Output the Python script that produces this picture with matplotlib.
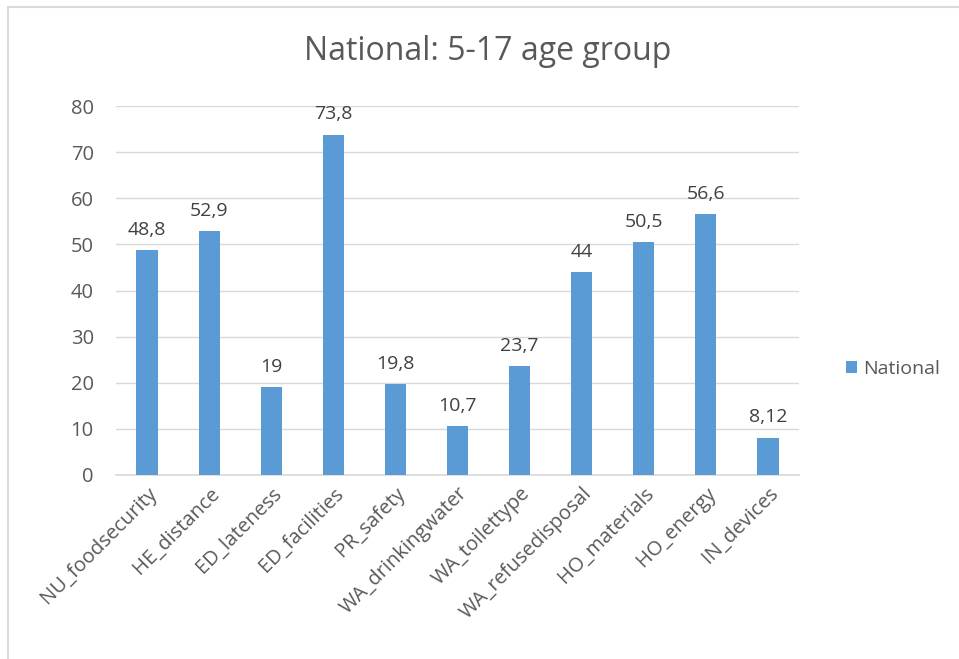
import matplotlib.pyplot as plt
import numpy as np
from matplotlib.patches import Rectangle

categories = ["NU_foodsecurity", "HE_distance", "ED_lateness", "ED_facilities",
              "PR_safety", "WA_drinkingwater", "WA_toilettype", "WA_refusedisposal",
              "HO_materials", "HO_energy", "IN_devices"]
national = [48.8, 52.9, 19, 73.8, 19.8, 10.7, 23.7, 44, 50.5, 56.6, 8.12]
value_labels = ["48,8", "52,9", "19", "73,8", "19,8", "10,7", "23,7", "44", "50,5", "56,6", "8,12"]

plt.rcParams['font.family'] = ['Open Sans', 'DejaVu Sans']
grey = "#595959"
blue = "#5b9bd5"

fig = plt.figure(figsize=(9.59, 6.59), dpi=100)
ax = fig.add_axes([116 / 959, 1 - 475 / 659, (799 - 116) / 959, (475 - 106) / 659])

x = np.arange(len(categories))
bars = ax.bar(x, national, width=0.34, color=blue, label="National", zorder=3)
for b, lab in zip(bars, value_labels):
    ax.annotate(lab, (b.get_x() + b.get_width() / 2, b.get_height()),
                xytext=(0, 8), textcoords="offset points",
                ha="center", va="bottom", fontsize=14, color="#404040")

ax.set_xlim(-0.5, len(categories) - 0.5)
ax.set_ylim(0, 80)
ax.set_yticks(range(0, 81, 10))
ax.yaxis.grid(True, color="#d9d9d9", linewidth=1, zorder=0)
ax.set_axisbelow(True)
for s in ["top", "right", "left"]:
    ax.spines[s].set_visible(False)
ax.spines["bottom"].set_color("#d9d9d9")
ax.spines["bottom"].set_linewidth(1.2)
ax.tick_params(axis="both", length=0, labelsize=14.5, colors=grey)
ax.tick_params(axis="y", pad=16)
ax.tick_params(axis="x", pad=6)
ax.set_xticks(x)
ax.set_xticklabels(categories, rotation=45, ha="right", rotation_mode="anchor")

fig.text(488 / 959, 1 - 52 / 659, "National: 5-17 age group", ha="center", va="center",
         fontsize=23, color=grey)

ax.legend(loc="center left", bbox_to_anchor=(828 / 959, 1 - 369 / 659),
          bbox_transform=fig.transFigure, frameon=False, fontsize=14,
          labelcolor=grey, handlelength=0.6, handleheight=0.6, handletextpad=0.3)

fig.patches.append(Rectangle((8 / 959, -0.1), 1.1, 1 - 7 / 659 + 0.1,
                             transform=fig.transFigure, fill=False,
                             edgecolor="#d9d9d9", linewidth=1.5))

fig.savefig("out.png", dpi=100)
